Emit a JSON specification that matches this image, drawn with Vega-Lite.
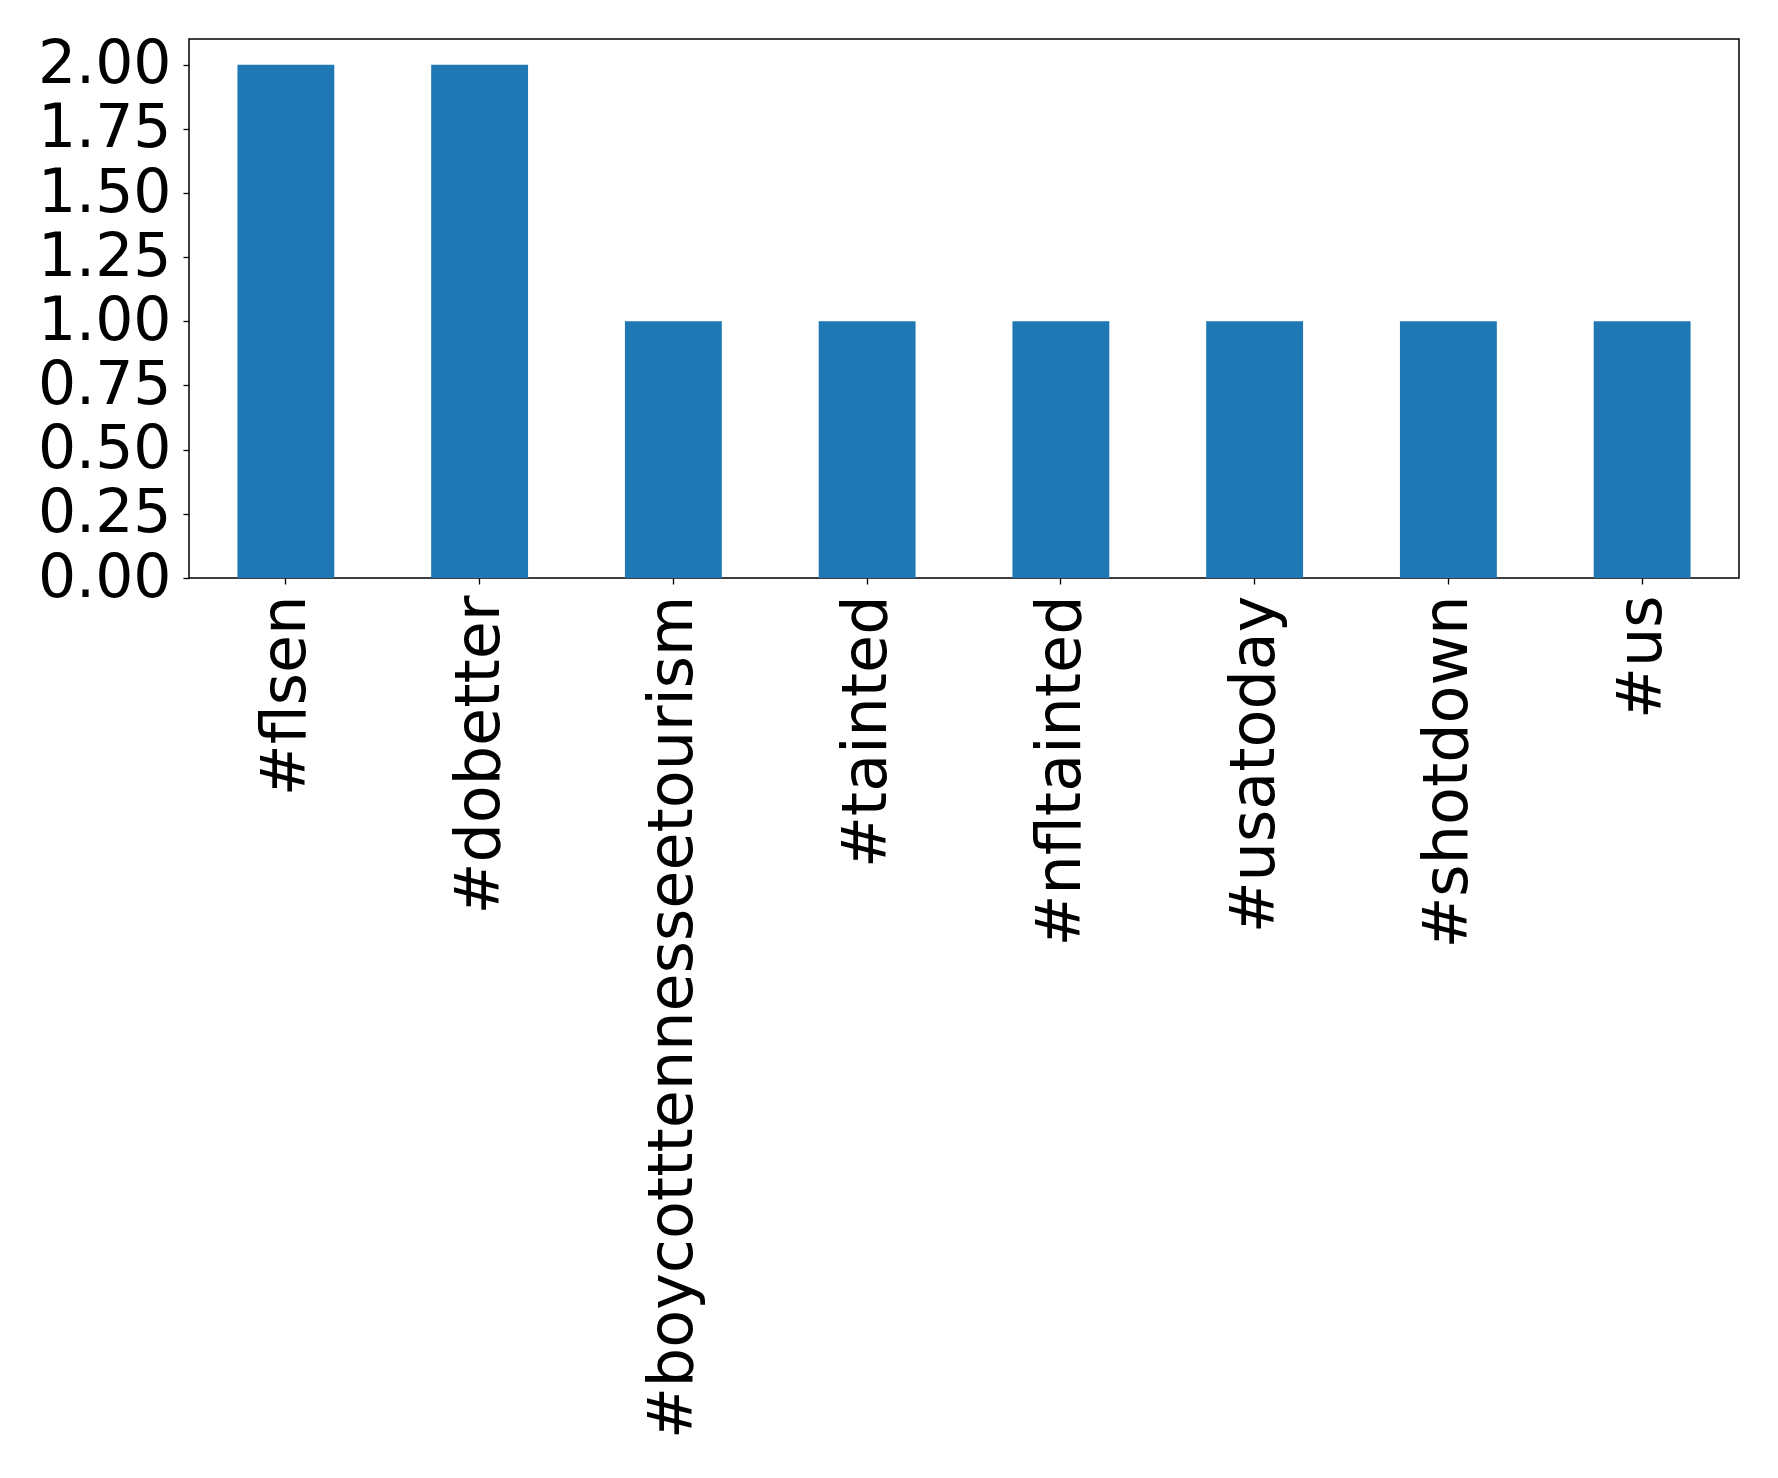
{
  "$schema": "https://vega.github.io/schema/vega-lite/v6.json",
  "autosize": {"type": "none"},
  "width": 1550,
  "height": 539,
  "padding": {"left": 189, "top": 39, "right": 39, "bottom": 861},
  "background": "white",
  "data": {"values": [
    {"tag": "#flsen", "count": 2},
    {"tag": "#dobetter", "count": 2},
    {"tag": "#boycotttennesseetourism", "count": 1},
    {"tag": "#tainted", "count": 1},
    {"tag": "#nfltainted", "count": 1},
    {"tag": "#usatoday", "count": 1},
    {"tag": "#shotdown", "count": 1},
    {"tag": "#us", "count": 1}
  ]},
  "mark": {"type": "bar", "color": "#1f77b4"},
  "encoding": {
    "x": {
      "field": "tag", "type": "nominal", "sort": null,
      "scale": {"paddingInner": 0.5, "paddingOuter": 0.25},
      "axis": {
        "title": null, "labelAngle": 270, "labelFont": "DejaVu Sans", "labelFontSize": 62,
        "labelColor": "black", "tickColor": "black", "tickSize": 6, "tickWidth": 1.3,
        "labelPadding": 11, "domain": false, "labelLimit": 0, "labelOverlap": false
      }
    },
    "y": {
      "field": "count", "type": "quantitative",
      "scale": {"domain": [0, 2.1], "nice": false, "zero": true},
      "axis": {
        "title": null, "values": [0, 0.25, 0.5, 0.75, 1, 1.25, 1.5, 1.75, 2], "format": ".2f",
        "labelFont": "DejaVu Sans", "labelFontSize": 60, "labelColor": "black",
        "tickColor": "black", "tickSize": 6, "tickWidth": 1.3, "labelPadding": 12,
        "grid": false, "domain": false, "labelOverlap": false, "labelBound": false
      }
    }
  },
  "config": {
    "view": {"stroke": "black", "strokeWidth": 1.5}
  }
}
